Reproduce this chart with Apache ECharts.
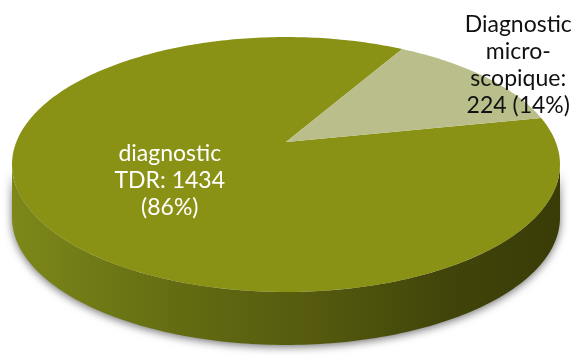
<!DOCTYPE html>
<html>
<head>
<meta charset="utf-8">
<script src="https://cdn.jsdelivr.net/npm/echarts@6/dist/echarts.min.js"></script>
<style>
  html, body { margin: 0; padding: 0; background: #fff; }
  #chart { width: 574px; height: 356px; }
</style>
</head>
<body>
<div id="chart"></div>
<script>
const categories = ["diagnostic TDR", "Diagnostic microscopique"];
const values = [1434, 224];
const sliceColors = ["#8a9215", "#b9be8a"];
const labelColors = ["#ffffff", "#111111"];
const labelRadius = [0.5, 1.2];

// line breaks as on the original slide
const labelFormats = [
  (v, p) => `diagnostic\nTDR: ${v}\n(${p}%)`,
  (v, p) => `Diagnostic\nmicro-\nscopique:\n${v} (${p}%)`
];

// pie geometry in pixels, with a small perspective tilt
const cx = 286, cy = 142, rx = 269.7, ry = 123.5, tilt = 0.1765, depth = 53;
const startAngle = 60.2; // degrees, counter-clockwise from 3 o'clock

const total = values.reduce((a, b) => a + b, 0);
const rad = d => d * Math.PI / 180;

function project(theta, r, dy) {
  const c = Math.cos(theta), s = Math.sin(theta);
  const w = 1 + tilt * r * s;
  return [cx + rx * r * c / w, cy - ry * r * s / w + (dy || 0)];
}

function arc(a0, a1, dy) {
  const pts = [];
  const n = Math.max(2, Math.ceil(Math.abs(a1 - a0) / rad(1)));
  for (let i = 0; i <= n; i++) pts.push(project(a0 + (a1 - a0) * i / n, 1, dy));
  return pts;
}

// part of the rim that faces the viewer
const frontA = Math.PI + Math.asin(tilt);
const frontB = 2 * Math.PI - Math.asin(tilt);

let acc = startAngle;
const seriesData = values.map((v, i) => {
  const a0 = acc;
  const a1 = acc + v / total * 360;
  acc = a1;
  return { name: categories[i], value: [v, a0, a1] };
});

const chart = echarts.init(document.getElementById("chart"));

chart.setOption({
  backgroundColor: "#ffffff",
  animation: false,
  series: [
    {
      type: "custom",
      coordinateSystem: "none",
      data: seriesData,
      renderItem: (params, api) => {
        const i = params.dataIndex;
        const v = api.value(0);
        const a0 = rad(api.value(1));
        const a1 = rad(api.value(2));
        const children = [];

        // side wall
        for (let k = -1; k <= 2; k++) {
          const b0 = Math.max(a0, frontA + k * 2 * Math.PI);
          const b1 = Math.min(a1, frontB + k * 2 * Math.PI);
          if (b1 > b0) {
            const pts = arc(b0, b1, 0).concat(arc(b1, b0, depth));
            children.push({
              type: "polygon",
              shape: { points: pts },
              style: {
                fill: new echarts.graphic.LinearGradient(0, 0, 1, 0, [
                  { offset: 0, color: "#7d8819" },
                  { offset: 0.3, color: "#646c12" },
                  { offset: 0.55, color: "#555a0e" },
                  { offset: 0.8, color: "#41440a" },
                  { offset: 1, color: "#3a3c07" }
                ]),
                shadowColor: "rgba(0,0,0,0.55)",
                shadowBlur: 8,
                shadowOffsetY: 2
              }
            });
          }
        }

        // top face
        const top = [project(0, 0)].concat(arc(a0, a1, 0));
        children.push({
          type: "polygon",
          shape: { points: top },
          style: { fill: sliceColors[i] }
        });

        // label
        const mid = (a0 + a1) / 2;
        const pos = project(mid, labelRadius[i]);
        const pct = Math.round(v / total * 100);
        children.push({
          type: "text",
          x: pos[0] - 1,
          y: pos[1],
          style: {
            text: labelFormats[i](v, pct),
            fill: labelColors[i],
            font: "23px Lato",
            align: "center",
            verticalAlign: "middle",
            lineHeight: 27
          }
        });

        return { type: "group", children };
      }
    }
  ]
});
</script>
</body>
</html>
